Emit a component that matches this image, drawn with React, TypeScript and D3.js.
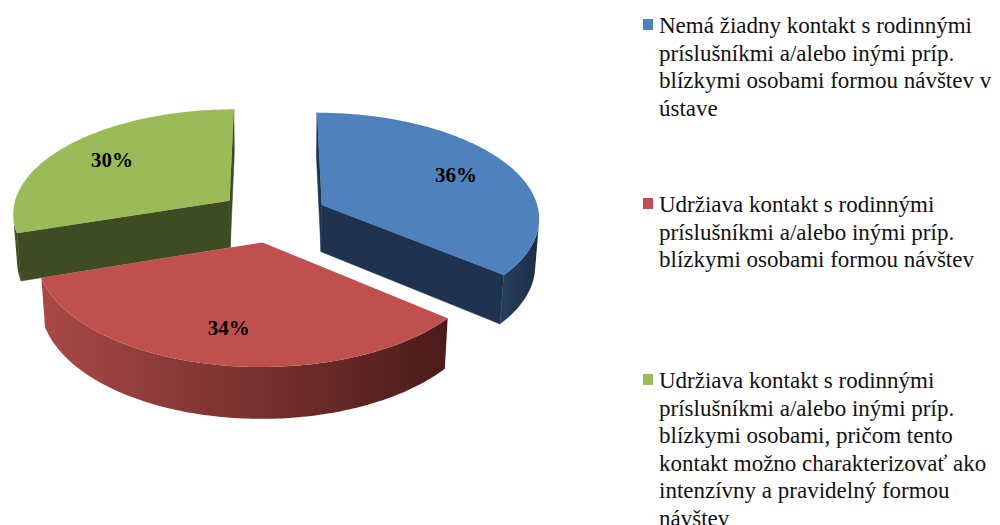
import React from "react";
import * as d3 from "d3";

const values = [36, 34, 30];
const valueLabels = ["36%", "34%", "30%"];
const legendLines = [
  ["Nemá žiadny kontakt s rodinnými", "príslušníkmi a/alebo inými príp.", "blízkymi osobami formou návštev v", "ústave"],
  ["Udržiava kontakt s rodinnými", "príslušníkmi a/alebo inými príp.", "blízkymi osobami formou návštev"],
  ["Udržiava kontakt s rodinnými", "príslušníkmi a/alebo inými príp.", "blízkymi osobami, pričom tento", "kontakt možno charakterizovať ako", "intenzívny a pravidelný formou", "návštev"],
];
const topColors = ["#4F81BD", "#C0504D", "#9BBB59"];
const cutColors = ["#1F3350", "#4F1E1D", "#3F4B22"];
const sideStops = [
  ["#27405F", "#1C2E47"],
  ["#A94946", "#4B1B1A"],
  ["#45532A", "#3C4820"],
];
const legendBaselines = [33, 212, 388];

const W = 1000, H = 525;
const D = 8, F = 1744, PHI = (28.7 * Math.PI) / 180;
const THICK = 0.25, EXPLODE = 0.25;
const CX = 273, CY = 216;
const cosP = Math.cos(PHI), sinP = Math.sin(PHI);
const cam = [0, D * sinP, -D * cosP];
const FONT = "'Liberation Serif', 'Times New Roman', 'DejaVu Serif', serif";

function proj(X: number, Y: number, Z: number): [number, number] {
  const yc = Y * cosP + Z * sinP;
  const zc = -Y * sinP + Z * cosP + D;
  return [CX + (F * X) / zc, CY - (F * yc) / zc];
}

function poly(pts: [number, number][]) {
  return "M" + pts.map((p) => p[0].toFixed(2) + "," + p[1].toFixed(2)).join("L") + "Z";
}

export default function App() {
  const arcs = d3.pie<number>().sort(null).startAngle(0).endAngle(2 * Math.PI)(values);

  const slices = arcs.map((a, i) => {
    const mid = (a.startAngle + a.endAngle) / 2;
    const ox = EXPLODE * Math.sin(mid);
    const oz = EXPLODE * Math.cos(mid);
    const rim = (t: number, y: number) => proj(ox + Math.sin(t), y, oz + Math.cos(t));
    const apexT = proj(ox, 0, oz);
    const apexB = proj(ox, -THICK, oz);
    const n = Math.max(8, Math.ceil(((a.endAngle - a.startAngle) * 180) / Math.PI));
    const ts = d3.range(n + 1).map((k) => a.startAngle + ((a.endAngle - a.startAngle) * k) / n);

    const top = poly([apexT, ...ts.map((t) => rim(t, 0))]);

    const vis = (nx: number, nz: number, px: number, pz: number) =>
      nx * (cam[0] - px) + nz * (cam[2] - pz) > 0;

    const faces: { d: string; fill: string }[] = [];
    {
      const t = a.startAngle;
      if (vis(-Math.cos(t), Math.sin(t), ox, oz))
        faces.push({ d: poly([apexT, rim(t, 0), rim(t, -THICK), apexB]), fill: cutColors[i] });
    }
    {
      const t = a.endAngle;
      if (vis(Math.cos(t), -Math.sin(t), ox, oz))
        faces.push({ d: poly([apexT, rim(t, 0), rim(t, -THICK), apexB]), fill: cutColors[i] });
    }
    const runs: number[][] = [];
    let cur: number[] | null = null;
    for (let k = 0; k < n; k++) {
      const tm = (ts[k] + ts[k + 1]) / 2;
      const v = vis(Math.sin(tm), Math.cos(tm), ox + Math.sin(tm), oz + Math.cos(tm));
      if (v) {
        if (!cur) { cur = [k]; runs.push(cur); }
        cur[1] = k + 1;
      } else cur = null;
    }
    const sides = runs.map((r) => {
      const seg = ts.slice(r[0], r[1] + 1);
      const pts = [...seg.map((t) => rim(t, 0)), ...seg.slice().reverse().map((t) => rim(t, -THICK))];
      const xs = pts.map((p) => p[0]);
      return { d: poly(pts), x0: d3.min(xs)!, x1: d3.max(xs)! };
    });

    const lp = proj(ox + 0.72 * Math.sin(mid), 0, oz + 0.72 * Math.cos(mid));
    const depth = oz * cosP + D;
    return { i, top, faces, sides, lp, depth };
  });

  const order = slices.slice().sort((a, b) => b.depth - a.depth);

  return (
    <svg width={W} height={H} style={{ position: "absolute", left: 0, top: 0, background: "#fff", fontFamily: FONT }}>
      <defs>
        {slices.map((s) =>
          s.sides.map((sd, j) => (
            <linearGradient key={`g${s.i}-${j}`} id={`side${s.i}-${j}`} gradientUnits="userSpaceOnUse"
              x1={sd.x0} x2={sd.x1} y1={0} y2={0}>
              <stop offset="0" stopColor={sideStops[s.i][0]} />
              <stop offset="1" stopColor={sideStops[s.i][1]} />
            </linearGradient>
          ))
        )}
      </defs>
      {order.map((s) => (
        <g key={s.i}>
          {s.faces.map((f, j) => <path key={"f" + j} d={f.d} fill={f.fill} stroke={f.fill} strokeWidth={0.5} />)}
          {s.sides.map((sd, j) => <path key={"s" + j} d={sd.d} fill={`url(#side${s.i}-${j})`} />)}
          <path d={s.top} fill={topColors[s.i]} />
        </g>
      ))}
      {slices.map((s) => (
        <text key={"l" + s.i} x={s.lp[0]} y={s.lp[1]} dy="0.35em" textAnchor="middle" fontSize={21}
          fontWeight="bold" fill="#000" style={{ fontFamily: FONT }}>{valueLabels[s.i]}</text>
      ))}
      {legendLines.map((lines, i) => (
        <g key={"lg" + i}>
          <rect x={643} y={legendBaselines[i] - 14} width={10} height={11} fill={topColors[i]} />
          {lines.map((ln, j) => (
            <text key={j} x={659} y={legendBaselines[i] + j * 27.5} fontSize={23} fill="#111"
              style={{ fontFamily: FONT }}>{ln}</text>
          ))}
        </g>
      ))}
    </svg>
  );
}
